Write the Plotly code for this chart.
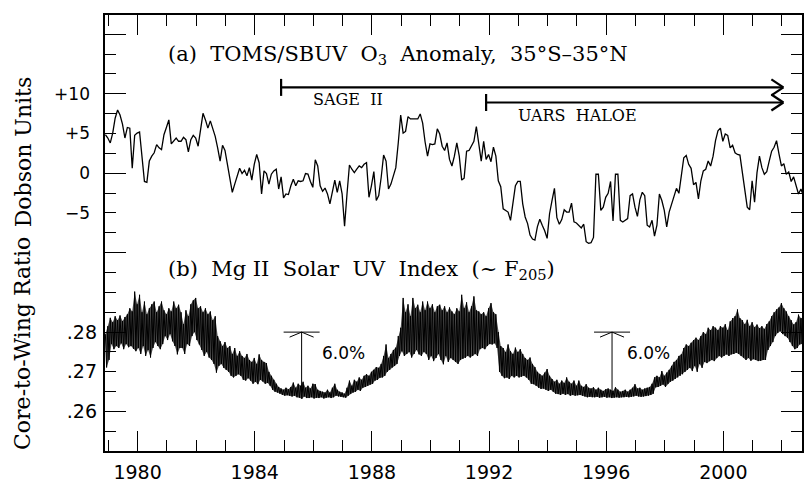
import plotly.graph_objects as go

# ---------------- data ----------------
start_year = 1978.9          # first monthly sample (Nov 1978)
# TOMS/SBUV ozone anomaly, 35S-35N, monthly (Dobson Units)
ozone_du = [
    4.85, 4.43, 3.81, 5.05, 6.92, 7.95, 7.33, 6.17, 4.43, 5.76, 5.67, 0.62,
    4.76, 5.05, 5.18, 2.36, -1.04, -1.16, 1.53, 2.15, 2.57, 3.60, 3.19, 2.98,
    4.85, 5.76, 6.71, 3.69, 4.10, 4.43, 4.02, 4.02, 4.51, 4.22, 2.69, 4.22,
    4.76, 4.43, 3.40, 5.67, 7.54, 6.71, 5.67, 6.59, 5.67, 4.64, 3.19, 1.53,
    3.52, 2.86, 1.12, -0.95, -2.40, -1.37, -0.46, 0.62, -0.04, 0.37, -0.33, 0.70,
    -0.87, 1.12, 2.36, 1.32, -2.61, 0.29, -0.04, -1.37, -0.12, 0.29, 0.50, -1.99,
    -0.46, -3.11, -2.61, -2.69, -1.58, -0.75, -1.58, -0.95, -1.04, -0.95, -0.04, -0.12,
    -1.04, -1.78, 1.70, 0.91, -1.58, -2.28, -1.87, -2.61, -3.85, -2.20, -0.87, -2.40,
    -0.95, -2.61, -6.67, -2.61, 1.03, 0.50, 0.08, 0.50, 0.91, 0.70, 1.12, 1.32,
    -3.03, -1.58, 0.20, -3.44, -2.82, -0.54, 2.28, 1.53, -1.99, -1.37, -0.33, 0.70,
    3.81, 7.33, 5.05, 5.26, 7.12, 6.83, 6.83, 6.83, 6.83, 7.46, 6.30, 3.93,
    2.15, 3.69, 3.60, 3.69, 5.59, 4.93, 3.40, 2.86, 3.81, 1.74, 0.91, 2.15,
    3.81, 2.15, -0.87, -0.62, 2.77, 2.86, 3.40, 4.02, 5.88, 3.81, 1.53, 4.02,
    1.74, 2.36, 1.45, 3.27, 2.15, -0.95, -1.70, -4.48, -4.68, -4.89, -5.93, -3.44,
    -1.58, -1.04, -1.04, -3.85, -5.51, -6.34, -7.79, -8.29, -8.41, -6.76, -5.80, -6.55,
    -7.25, -8.20, -5.10, -3.44, -1.91, -5.60, -6.42, -5.84, -4.60, -4.89, -4.89, -3.77,
    -6.13, -6.26, -6.55, -6.88, -6.42, -8.62, -8.83, -8.74, -8.08, -0.13, -0.13, -4.68,
    -4.27, -3.03, -2.53, -1.04, -6.01, -0.13, -0.13, -5.93, -6.13, -5.93, -5.72, -2.82,
    -2.61, -4.27, -5.43, -3.36, -2.40, -2.82, -6.55, -6.76, -5.93, -7.92, -6.55, -2.61,
    -3.44, -4.68, -6.76, -4.89, -3.85, -2.82, -1.91, -2.53, -0.13, 1.95, 2.24, 1.12,
    0.62, -1.45, -1.16, -3.23, -0.95, 0.29, 0.50, 1.53, 0.91, 2.15, 4.10, 5.34,
    5.67, 4.02, 4.93, 4.76, 3.19, 3.52, 2.57, 2.36, 2.28, 0.29, -2.20, -4.27,
    -4.60, -0.95, -3.65, 0.08, 2.15, 0.70, -0.13, 0.20, 1.53, 2.77, 3.27, 4.10,
    2.44, 0.91, 1.20, -0.13, 0.16, -1.04, -0.46, -1.58, -2.61, -1.99, -2.82,
]
# Mg II core-to-wing ratio: monthly upper and lower extent of the daily record
mg_high = [
    .2795, .2815, .2836, .2825, .2840, .2830, .2842, .2828, .2838, .2845, .2860, .2852,
    .2902, .2870, .2894, .2850, .2877, .2845, .2860, .2870, .2877, .2850, .2865, .2877,
    .2855, .2845, .2860, .2852, .2877, .2860, .2869, .2850, .2820, .2855, .2840, .2870,
    .2880, .2886, .2860, .2865, .2850, .2860, .2845, .2852, .2830, .2840, .2790, .2777,
    .2765, .2775, .2760, .2765, .2745, .2760, .2740, .2752, .2740, .2735, .2745, .2730,
    .2725, .2735, .2720, .2744, .2730, .2725, .2722, .2700, .2690, .2680, .2670, .2662,
    .2658, .2655, .2660, .2656, .2662, .2673, .2660, .2670, .2665, .2675, .2660, .2665,
    .2658, .2670, .2669, .2655, .2652, .2650, .2648, .2655, .2648, .2660, .2670, .2655,
    .2650, .2648, .2645, .2660, .2678, .2665, .2680, .2675, .2686, .2680, .2690, .2694,
    .2690, .2700, .2705, .2712, .2710, .2720, .2740, .2769, .2735, .2745, .2755, .2761,
    .2790, .2811, .2886, .2850, .2870, .2840, .2886, .2860, .2869, .2850, .2877, .2855,
    .2877, .2860, .2870, .2850, .2865, .2869, .2855, .2865, .2850, .2862, .2852, .2845,
    .2860, .2852, .2894, .2860, .2875, .2850, .2865, .2890, .2855, .2852, .2845, .2850,
    .2840, .2860, .2873, .2850, .2845, .2800, .2765, .2760, .2750, .2769, .2752, .2745,
    .2761, .2750, .2757, .2745, .2735, .2730, .2736, .2720, .2712, .2700, .2694, .2690,
    .2698, .2707, .2690, .2682, .2675, .2680, .2670, .2678, .2672, .2686, .2675, .2670,
    .2678, .2665, .2678, .2665, .2662, .2669, .2660, .2658, .2661, .2655, .2660, .2655,
    .2652, .2656, .2658, .2655, .2652, .2661, .2655, .2650, .2652, .2655, .2650, .2655,
    .2660, .2669, .2658, .2660, .2655, .2658, .2660, .2662, .2670, .2686, .2690, .2686,
    .2702, .2690, .2698, .2705, .2715, .2725, .2730, .2740, .2744, .2760, .2769, .2765,
    .2773, .2780, .2786, .2780, .2790, .2800, .2795, .2811, .2805, .2815, .2811, .2805,
    .2815, .2811, .2820, .2805, .2827, .2835, .2840, .2857, .2835, .2830, .2820, .2831,
    .2815, .2825, .2812, .2819, .2810, .2815, .2808, .2820, .2827, .2840, .2850, .2857,
    .2862, .2873, .2860, .2852, .2840, .2830, .2819, .2825, .2844, .2835, .2838,
]
mg_low = [
    .2711, .2730, .2770, .2757, .2765, .2760, .2772, .2757, .2770, .2762, .2765, .2758,
    .2752, .2760, .2745, .2765, .2740, .2755, .2736, .2760, .2775, .2765, .2757, .2770,
    .2790, .2780, .2795, .2777, .2765, .2744, .2760, .2760, .2745, .2770, .2765, .2790,
    .2800, .2780, .2769, .2755, .2740, .2750, .2736, .2730, .2720, .2698, .2715, .2720,
    .2710, .2705, .2700, .2690, .2686, .2690, .2694, .2690, .2680, .2678, .2684, .2678,
    .2670, .2675, .2669, .2680, .2676, .2670, .2672, .2665, .2655, .2650, .2648, .2645,
    .2642, .2640, .2641, .2640, .2638, .2640, .2636, .2635, .2632, .2638, .2634, .2634,
    .2636, .2633, .2635, .2634, .2636, .2633, .2635, .2636, .2634, .2636, .2640, .2638,
    .2637, .2636, .2635, .2640, .2645, .2648, .2650, .2655, .2652, .2660, .2662, .2665,
    .2668, .2670, .2678, .2680, .2685, .2686, .2690, .2700, .2705, .2711, .2715, .2720,
    .2740, .2752, .2740, .2745, .2750, .2736, .2745, .2755, .2744, .2740, .2750, .2745,
    .2730, .2740, .2727, .2735, .2745, .2730, .2719, .2740, .2725, .2735, .2730, .2725,
    .2720, .2730, .2733, .2735, .2740, .2736, .2740, .2745, .2740, .2757, .2760, .2757,
    .2765, .2770, .2769, .2772, .2760, .2700, .2690, .2684, .2686, .2682, .2690, .2686,
    .2690, .2686, .2688, .2690, .2686, .2680, .2670, .2669, .2665, .2660, .2657, .2658,
    .2655, .2652, .2655, .2650, .2645, .2644, .2642, .2645, .2642, .2644, .2640, .2642,
    .2640, .2641, .2642, .2640, .2638, .2636, .2637, .2636, .2636, .2637, .2635, .2636,
    .2637, .2635, .2636, .2634, .2635, .2636, .2635, .2636, .2636, .2637, .2636, .2637,
    .2638, .2640, .2638, .2637, .2638, .2639, .2640, .2642, .2645, .2661, .2662, .2665,
    .2668, .2662, .2670, .2675, .2678, .2682, .2686, .2690, .2694, .2700, .2705, .2710,
    .2702, .2715, .2700, .2720, .2710, .2725, .2722, .2727, .2730, .2727, .2735, .2740,
    .2736, .2740, .2744, .2740, .2744, .2745, .2748, .2745, .2740, .2736, .2730, .2735,
    .2728, .2732, .2730, .2727, .2728, .2730, .2730, .2755, .2765, .2775, .2790, .2798,
    .2802, .2795, .2790, .2786, .2775, .2765, .2757, .2760, .2769, .2770, .2765,
]

# tick labels
year_ticks = [1980, 1984, 1988, 1992, 1996, 2000]
year_labels = ["1980", "1984", "1988", "1992", "1996", "2000"]
du_long_ticks = [17.5, 10, 0]
du_short_ticks = [15, 12.5, 7.5, 5, 2.5, -2.5, -5, -7.5]
du_label_vals = [10, 5, 0, -5]
du_label_text = ["+10", "+5", "0", "\u22125"]
mg_long_ticks = [0.30, 0.28, 0.26]
mg_short_ticks = [0.295, 0.29, 0.285, 0.275, 0.27, 0.265, 0.255]
mg_label_vals = [0.28, 0.27, 0.26]
mg_label_text = [".28", ".27", ".26"]

# instrument records (start year, level in DU) and 6% markers
sage_start, sage_level = 1984.9, 10.8
haloe_start, haloe_level = 1991.9, 8.9
records_end = 2002.05
mark_years = [1985.6, 1996.2]
mark_top = 0.280
mark_bottoms = [0.2648, 0.2641]

# ---------------- build ----------------
ozone_t = [start_year + k / 12 for k in range(len(ozone_du))]
hi_t = [start_year + k / 12 for k in range(len(mg_high))]
lo_t = [start_year + k / 12 + 1 / 24 for k in range(len(mg_low))]
mg_t, mg_v = [], []
for th, hi, tl, lo in zip(hi_t, mg_high, lo_t, mg_low):
    mg_t += [th, tl]
    mg_v += [hi, lo]

fig = go.Figure()
# shaded extent of the daily Mg II record (between monthly highs and lows)
fig.add_trace(go.Scatter(x=hi_t, y=mg_high, mode="lines", line=dict(width=0),
                         yaxis="y2", showlegend=False, hoverinfo="skip"))
fig.add_trace(go.Scatter(x=lo_t, y=mg_low, mode="lines", line=dict(width=0),
                         fill="tonexty", fillcolor="rgba(0,0,0,0.7)",
                         yaxis="y2", showlegend=False, hoverinfo="skip"))
fig.add_trace(go.Scatter(x=mg_t, y=mg_v, mode="lines",
                         line=dict(color="black", width=1), yaxis="y2",
                         showlegend=False, hoverinfo="skip"))
fig.add_trace(go.Scatter(x=ozone_t, y=ozone_du, mode="lines",
                         line=dict(color="black", width=1.3), yaxis="y",
                         showlegend=False, hoverinfo="skip"))
# the label-only axes need a (blank) trace so that they are drawn
fig.add_trace(go.Scatter(x=[None], y=[None], yaxis="y3", showlegend=False,
                         hoverinfo="skip"))
fig.add_trace(go.Scatter(x=[None], y=[None], yaxis="y4", showlegend=False,
                         hoverinfo="skip"))

W, H = 804, 483
L, R, T, B = 105, 0, 15, 29
px_per_year = 29.37
x_lo = 1980 - (137.7 - L) / px_per_year
x_hi = 1980 + (W - R - 137.7) / px_per_year
du_range = [(174.3 - (H - B)) / 8.0, (174.3 - T) / 8.0]
mg_range = [0.28 - ((H - B) - 334.3) / 4000, 0.28 + (334.3 - T) / 4000]

du_font = dict(family="DejaVu Sans", size=17, color="black")
mg_font = dict(family="DejaVu Sans", size=19, color="black")
serif = "DejaVu Serif"
tick_common = dict(showgrid=False, zeroline=False, tickcolor="black", tickwidth=1.2)

fig.update_layout(
    width=W, height=H, margin=dict(l=L, r=R, t=T, b=B),
    paper_bgcolor="white", plot_bgcolor="white",
    xaxis=dict(range=[x_lo, x_hi], showline=True, linecolor="black", linewidth=1.5,
               mirror="ticks", ticks="inside", tickmode="array", tickvals=year_ticks,
               ticktext=year_labels, ticklen=20,
               minor=dict(tickmode="linear", tick0=1979, dtick=1, ticks="inside",
                          ticklen=11, tickwidth=1.2, tickcolor="black"),
               tickfont=dict(family="DejaVu Sans", size=19, color="black"),
               ticklabelstandoff=3, **tick_common),
    # ozone axis: long and short tick marks, no labels
    yaxis=dict(range=du_range, showline=True, linecolor="black", linewidth=1.5,
               mirror="ticks", ticks="inside", tickmode="array",
               tickvals=du_long_ticks, showticklabels=False, ticklen=21,
               minor=dict(tickmode="array", tickvals=du_short_ticks, ticks="inside",
                          ticklen=11, tickwidth=1.2, tickcolor="black"),
               **tick_common),
    # ozone labels
    yaxis3=dict(range=du_range, overlaying="y", anchor="x", side="left",
                showline=False, ticks="", tickmode="array", tickvals=du_label_vals,
                ticktext=du_label_text, tickfont=du_font, ticklabelstandoff=14,
                **tick_common),
    # Mg II axis: tick marks
    yaxis2=dict(range=mg_range, overlaying="y", anchor="x", side="left",
                showline=False, mirror="ticks", ticks="inside", tickmode="array",
                tickvals=mg_long_ticks, showticklabels=False, ticklen=21,
                minor=dict(tickmode="array", tickvals=mg_short_ticks, ticks="inside",
                           ticklen=11, tickwidth=1.2, tickcolor="black"),
                **tick_common),
    # Mg II labels
    yaxis4=dict(range=mg_range, overlaying="y", anchor="x", side="left",
                showline=False, ticks="", tickmode="array", tickvals=mg_label_vals,
                ticktext=mg_label_text, tickfont=mg_font, ticklabelstandoff=7,
                **tick_common),
)

shapes = []
# instrument record arrows
for s, lev in [(sage_start, sage_level), (haloe_start, haloe_level)]:
    shapes.append(dict(type="line", xref="x", yref="y", x0=s, x1=records_end,
                       y0=lev, y1=lev, line=dict(color="black", width=2.2)))
    shapes.append(dict(type="line", xref="x", yref="y", xsizemode="pixel",
                       xanchor=s, x0=0, x1=0, ysizemode="pixel", yanchor=lev,
                       y0=-8.5, y1=8.5, line=dict(color="black", width=2.2)))
    for dy in (8, -8):
        shapes.append(dict(type="line", xref="x", yref="y", xsizemode="pixel",
                           xanchor=records_end, x0=-12, x1=0, ysizemode="pixel",
                           yanchor=lev, y0=dy, y1=0,
                           line=dict(color="black", width=2.2)))
# 6.0% markers
for yr, bot in zip(mark_years, mark_bottoms):
    shapes.append(dict(type="line", xref="x", yref="y2", x0=yr, x1=yr,
                       y0=bot, y1=mark_top, line=dict(color="black", width=1)))
    shapes.append(dict(type="line", xref="x", yref="y2", xsizemode="pixel",
                       xanchor=yr, x0=-18, x1=18, y0=mark_top, y1=mark_top,
                       line=dict(color="black", width=1)))
    for dx in (-12, 12):
        shapes.append(dict(type="line", xref="x", yref="y2", xsizemode="pixel",
                           xanchor=yr, x0=dx, x1=0, ysizemode="pixel",
                           yanchor=mark_top, y0=-5, y1=0,
                           line=dict(color="black", width=1)))
fig.update_layout(shapes=shapes)

def px_x(x):
    return (x - L) / (W - L - R)

def px_y(y):
    return ((H - B) - y) / (H - T - B)

nb = "\u00a0"
ann = [
    dict(text=f"(a){nb}{nb}TOMS/SBUV{nb}{nb}O<sub>3</sub>{nb}{nb}Anomaly,{nb}{nb}35\u00b0S\u201335\u00b0N",
         x=px_x(166), y=px_y(55), xanchor="left", yanchor="middle",
         font=dict(family=serif, size=21, color="black")),
    dict(text=f"(b){nb}{nb}Mg{nb}II{nb}{nb}Solar{nb}{nb}UV{nb}{nb}Index{nb}{nb}(~{nb}F<sub>205</sub>)",
         x=px_x(166), y=px_y(272), xanchor="left", yanchor="middle",
         font=dict(family=serif, size=21, color="black")),
    dict(text=f"SAGE{nb}{nb}II", x=px_x(349), y=px_y(100), xanchor="center",
         yanchor="middle", font=dict(family=serif, size=16, color="black")),
    dict(text=f"UARS{nb}{nb}HALOE", x=px_x(578.5), y=px_y(116.3), xanchor="center",
         yanchor="middle", font=dict(family=serif, size=16, color="black")),
    dict(text="6.0%", x=px_x(320.5), y=px_y(355), xanchor="left", yanchor="middle",
         font=dict(family="DejaVu Sans", size=17, color="black")),
    dict(text="6.0%", x=px_x(626.5), y=px_y(355), xanchor="left", yanchor="middle",
         font=dict(family="DejaVu Sans", size=17, color="black")),
    dict(text="Core-to-Wing Ratio", x=px_x(23), y=px_y(346), textangle=-90,
         xanchor="center", yanchor="middle",
         font=dict(family=serif, size=22, color="black")),
    dict(text="Dobson Units", x=px_x(23), y=px_y(153), textangle=-90,
         xanchor="center", yanchor="middle",
         font=dict(family=serif, size=22, color="black")),
]
for a in ann:
    a.update(xref="paper", yref="paper", showarrow=False)
fig.update_layout(annotations=ann)

fig.write_html("out.html", config={"displayModeBar": False},
               post_script="document.body.style.margin='0';")
